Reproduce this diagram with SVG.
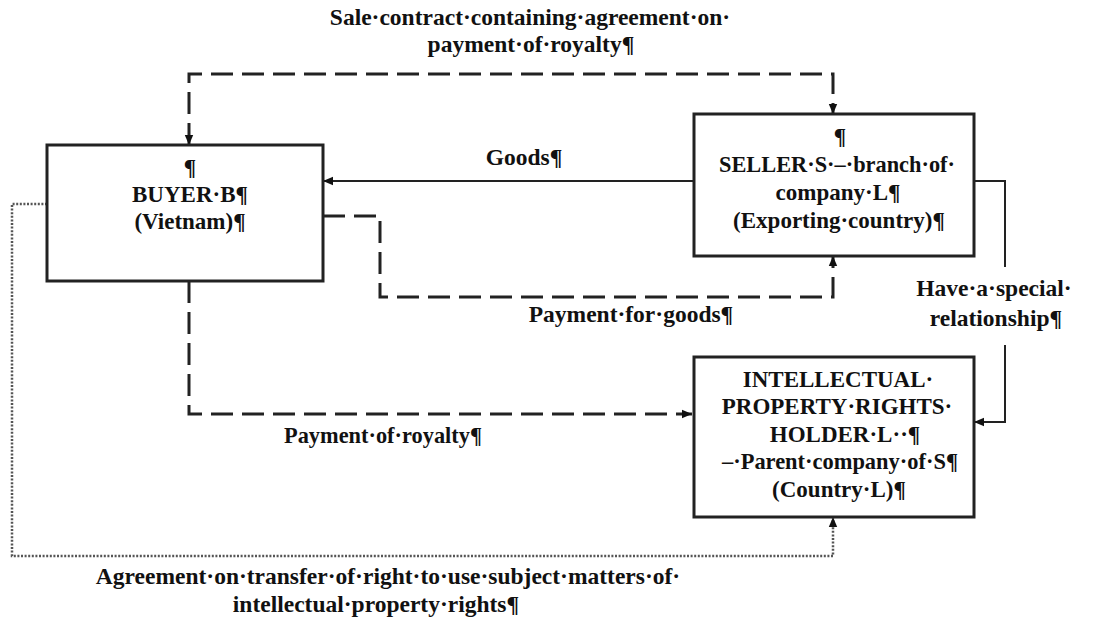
<svg xmlns="http://www.w3.org/2000/svg" width="1094" height="619" viewBox="0 0 1094 619">
<style>
  text { font-family: "Liberation Serif", "Times New Roman", serif; font-weight: bold; font-size: 23.5px; fill: #111; text-anchor: middle; }
  .in { font-size: 23px; }
  .box { fill: #fff; stroke: #222; stroke-width: 3; }
  .solid { fill: none; stroke: #222; stroke-width: 2; }
  .dash { fill: none; stroke: #222; stroke-width: 3; stroke-dasharray: 22 9; }
  .dot { fill: none; stroke: #555; stroke-width: 2.5; stroke-dasharray: 2 1.6; }
</style>
<defs>
  <marker id="arr" viewBox="0 0 10 10" refX="10" refY="5" markerWidth="10" markerHeight="10" markerUnits="userSpaceOnUse" orient="auto-start-reverse">
    <path d="M0,0.8 L10,5 L0,9.2 Z" fill="#111"/>
  </marker>
</defs>
<rect width="1094" height="619" fill="#fff"/>

<g id="connectors">
  <path class="dash" d="M189,145 V74 H833 V114" marker-start="url(#arr)" marker-end="url(#arr)"/>
  <path class="solid" d="M694,181 H323" marker-end="url(#arr)"/>
  <path class="dash" d="M323,216 H380 V297 H833 V256" marker-end="url(#arr)"/>
  <path class="dash" d="M189,281 V414 H692" marker-end="url(#arr)"/>
  <path class="solid" d="M974,181 H1005 V267"/>
  <path class="solid" d="M1005,345 V422 H974" marker-end="url(#arr)"/>
  <path class="dot" d="M47,204 H12 V556 H833 V517" marker-end="url(#arr)"/>
  <text x="530" y="25">Sale·contract·containing·agreement·on·</text>
  <text x="531" y="52">payment·of·royalty¶</text>
  <text x="524" y="165">Goods¶</text>
  <text x="631" y="322">Payment·for·goods¶</text>
  <text x="383" y="443" textLength="198" lengthAdjust="spacingAndGlyphs">Payment·of·royalty¶</text>
  <text x="994" y="296">Have·a·special·</text>
  <text x="996" y="326">relationship¶</text>
  <text x="388" y="584">Agreement·on·transfer·of·right·to·use·subject·matters·of·</text>
  <text x="376" y="612">intellectual·property·rights¶</text>
</g>

<g id="buyer">
  <rect class="box" x="47" y="145" width="276" height="136"/>
  <text class="in" x="190" y="175">¶</text>
  <text class="in" x="190" y="202">BUYER·B¶</text>
  <text class="in" x="190" y="229">(Vietnam)¶</text>
</g>

<g id="seller">
  <rect class="box" x="694" y="114" width="280" height="142"/>
  <text class="in" x="840" y="144">¶</text>
  <text class="in" x="837" y="172" textLength="236" lengthAdjust="spacingAndGlyphs">SELLER·S·–·branch·of·</text>
  <text class="in" x="838" y="200">company·L¶</text>
  <text class="in" x="839" y="228">(Exporting·country)¶</text>
</g>

<g id="ip-holder">
  <rect class="box" x="694" y="357" width="280" height="160"/>
  <text class="in" x="838" y="387">INTELLECTUAL·</text>
  <text class="in" x="837" y="414">PROPERTY·RIGHTS·</text>
  <text class="in" x="845" y="442">HOLDER·L··¶</text>
  <text class="in" x="840" y="469" textLength="236" lengthAdjust="spacingAndGlyphs">–·Parent·company·of·S¶</text>
  <text class="in" x="839" y="497">(Country·L)¶</text>
</g>
</svg>
